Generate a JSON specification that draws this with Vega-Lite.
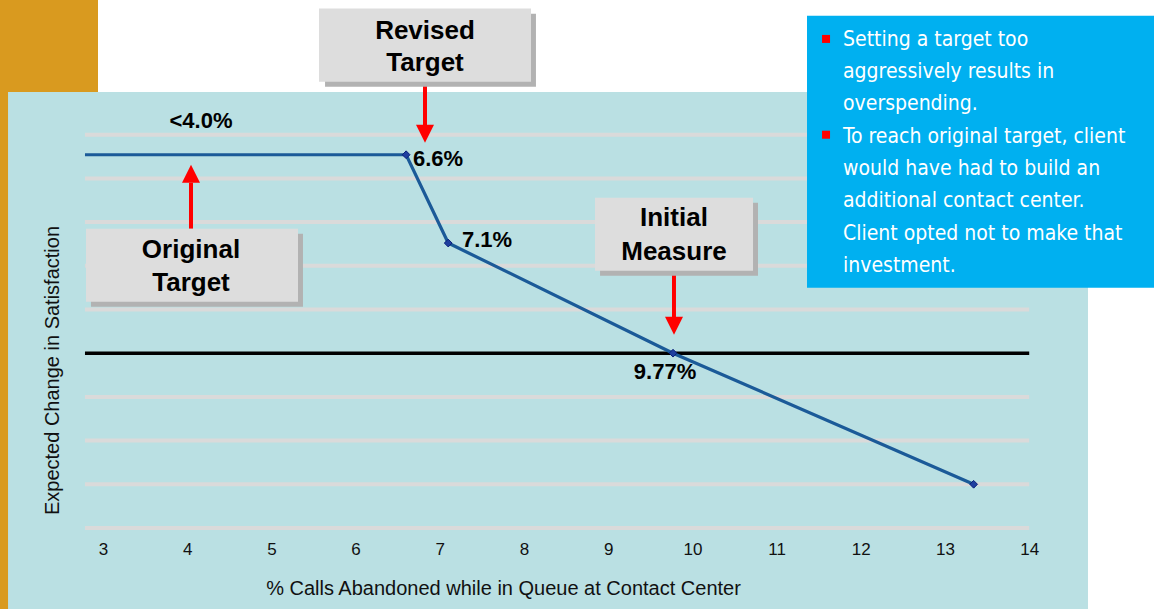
{
  "$schema": "https://vega.github.io/schema/vega-lite/v6.json",
  "width": 1154,
  "height": 609,
  "padding": 0,
  "autosize": {"type": "none"},
  "background": "white",
  "config": {"view": {"stroke": null}},
  "datasets": {
    "bg": [
      {"kind": "gold", "x": 1.7, "x2": 2.9406, "y": -2.2, "y2": 12.3},
      {"kind": "panel", "x": 1.872, "x2": 14.698, "y": -2.2, "y2": 9.977}
    ],
    "grid": [
      {"x": 2.786, "x2": 14.0, "y": 0},
      {"x": 2.786, "x2": 14.0, "y": 1},
      {"x": 2.786, "x2": 14.0, "y": 2},
      {"x": 2.786, "x2": 14.0, "y": 3},
      {"x": 2.786, "x2": 14.0, "y": 5},
      {"x": 2.786, "x2": 14.0, "y": 6},
      {"x": 2.786, "x2": 14.0, "y": 7},
      {"x": 2.786, "x2": 14.0, "y": 8},
      {"x": 2.786, "x2": 14.0, "y": 9}
    ],
    "base": [
      {"x": 2.786, "x2": 14.0, "y": 4}
    ],
    "series": [
      {"x": 2.786, "y": 8.541, "marker": false},
      {"x": 6.6, "y": 8.541, "marker": true},
      {"x": 7.1, "y": 6.52, "marker": true},
      {"x": 9.77, "y": 4.0, "marker": true},
      {"x": 13.34, "y": 1.0, "marker": true}
    ],
    "labels": [
      {"x": 4.164, "y": 9.32, "text": "<4.0%"},
      {"x": 6.979, "y": 8.45, "text": "6.6%"},
      {"x": 7.561, "y": 6.595, "text": "7.1%"},
      {"x": 9.675, "y": 3.572, "text": "9.77%"}
    ],
    "shafts": [
      {"x": 6.824, "y": 9.16, "y2": 10.213},
      {"x": 4.045, "y": 7.90, "y2": 6.847},
      {"x": 9.781, "y": 4.809, "y2": 5.885}
    ],
    "headsDown": [
      {"x": 6.824, "y": 9.022},
      {"x": 9.781, "y": 4.626}
    ],
    "headsUp": [
      {"x": 4.045, "y": 8.106}
    ],
    "shadows": [
      {"x": 5.637, "x2": 8.142, "y": 10.098, "y2": 11.77},
      {"x": 2.857, "x2": 5.375, "y": 5.061, "y2": 6.732},
      {"x": 8.903, "x2": 10.779, "y": 5.771, "y2": 7.442}
    ],
    "boxes": [
      {"x": 5.565, "x2": 8.083, "y": 10.213, "y2": 11.885},
      {"x": 2.798, "x2": 5.316, "y": 5.175, "y2": 6.847},
      {"x": 8.843, "x2": 10.72, "y": 5.885, "y2": 7.557}
    ],
    "boxText": [
      {"x": 6.824, "y": 11.381, "text": "Revised"},
      {"x": 6.824, "y": 10.648, "text": "Target"},
      {"x": 4.045, "y": 6.366, "text": "Original"},
      {"x": 4.045, "y": 5.61, "text": "Target"},
      {"x": 9.781, "y": 7.099, "text": "Initial"},
      {"x": 9.781, "y": 6.32, "text": "Measure"}
    ],
    "info": [
      {"x": 11.361, "x2": 15.6, "y": 5.496, "y2": 11.724}
    ],
    "bullets": [
      {"x": 11.587, "y": 11.191},
      {"x": 11.587, "y": 8.999}
    ],
    "infoText": [
      {"x": 11.789, "y": 11.175, "text": "Setting a target too"},
      {"x": 11.789, "y": 10.435, "text": "aggressively results in"},
      {"x": 11.789, "y": 9.695, "text": "overspending."},
      {"x": 11.789, "y": 8.956, "text": "To reach original target, client"},
      {"x": 11.789, "y": 8.216, "text": "would have had to build an"},
      {"x": 11.789, "y": 7.477, "text": "additional contact center."},
      {"x": 11.789, "y": 6.737, "text": "Client opted not to make that"},
      {"x": 11.789, "y": 5.997, "text": "investment."}
    ]
  },
  "encoding": {
    "x": {
      "field": "x",
      "type": "quantitative",
      "scale": {"domain": [1.7767, 15.482], "nice": false, "zero": false},
      "axis": {
        "values": [3, 4, 5, 6, 7, 8, 9, 10, 11, 12, 13, 14],
        "title": "% Calls Abandoned while in Queue at Contact Center",
        "grid": false,
        "domain": false,
        "ticks": false,
        "tickSize": 0,
        "offset": -80,
        "labelPadding": 20,
        "labelBaseline": "middle",
        "labelFontSize": 17,
        "labelFont": "Liberation Sans",
        "labelColor": "#111111",
        "labelFlush": false,
        "labelOverlap": false,
        "titleFont": "Liberation Sans",
        "titleFontSize": 20,
        "titleFontWeight": "normal",
        "titleColor": "#111111",
        "titlePadding": 21,
        "titleX": 503,
        "zindex": 1
      }
    },
    "y": {
      "field": "y",
      "type": "quantitative",
      "scale": {"domain": [-1.854, 12.082], "nice": false, "zero": false},
      "axis": {
        "title": "Expected Change in Satisfaction",
        "labels": false,
        "ticks": false,
        "tickSize": 0,
        "domain": false,
        "grid": false,
        "offset": -62,
        "titlePadding": 0,
        "titleFont": "Liberation Sans",
        "titleFontSize": 20,
        "titleFontWeight": "normal",
        "titleColor": "#111111",
        "titleY": 370,
        "zindex": 1
      }
    }
  },
  "layer": [
    {
      "data": {"name": "bg"},
      "transform": [{"filter": "datum.kind === 'gold'"}],
      "mark": {"type": "rect", "fill": "#D99A1F"},
      "encoding": {"x2": {"field": "x2"}, "y2": {"field": "y2"}}
    },
    {
      "data": {"name": "bg"},
      "transform": [{"filter": "datum.kind === 'panel'"}],
      "mark": {"type": "rect", "fill": "#BAE0E3"},
      "encoding": {"x2": {"field": "x2"}, "y2": {"field": "y2"}}
    },
    {
      "data": {"name": "grid"},
      "mark": {"type": "rule", "stroke": "#DADADA", "strokeWidth": 4},
      "encoding": {"x2": {"field": "x2"}}
    },
    {
      "data": {"name": "base"},
      "mark": {"type": "rule", "stroke": "#000000", "strokeWidth": 3.5},
      "encoding": {"x2": {"field": "x2"}}
    },
    {
      "data": {"name": "series"},
      "mark": {"type": "line", "stroke": "#1B5A98", "strokeWidth": 3.2},
      "encoding": {}
    },
    {
      "data": {"name": "series"},
      "transform": [{"filter": "datum.marker"}],
      "mark": {"type": "point", "shape": "diamond", "filled": true, "fill": "#1F3F9F", "stroke": "#0A1F7A", "strokeWidth": 1, "size": 60, "opacity": 1},
      "encoding": {}
    },
    {
      "data": {"name": "labels"},
      "mark": {"type": "text", "font": "Liberation Sans", "fontWeight": "bold", "fontSize": 22, "align": "center", "baseline": "middle", "fill": "#000000"},
      "encoding": {"text": {"field": "text"}}
    },
    {
      "data": {"name": "shafts"},
      "mark": {"type": "rule", "stroke": "#FF0000", "strokeWidth": 4},
      "encoding": {"y2": {"field": "y2"}}
    },
    {
      "data": {"name": "headsDown"},
      "mark": {"type": "point", "shape": "M-1,-1L1,-1L0,1Z", "filled": true, "fill": "#FF0000", "strokeWidth": 0, "size": 324, "opacity": 1},
      "encoding": {}
    },
    {
      "data": {"name": "headsUp"},
      "mark": {"type": "point", "shape": "M-1,1L1,1L0,-1Z", "filled": true, "fill": "#FF0000", "strokeWidth": 0, "size": 324, "opacity": 1},
      "encoding": {}
    },
    {
      "data": {"name": "shadows"},
      "mark": {"type": "rect", "fill": "#B2B2B2"},
      "encoding": {"x2": {"field": "x2"}, "y2": {"field": "y2"}}
    },
    {
      "data": {"name": "boxes"},
      "mark": {"type": "rect", "fill": "#DDDDDD"},
      "encoding": {"x2": {"field": "x2"}, "y2": {"field": "y2"}}
    },
    {
      "data": {"name": "boxText"},
      "mark": {"type": "text", "font": "Liberation Sans", "fontWeight": "bold", "fontSize": 26, "align": "center", "baseline": "middle", "fill": "#000000"},
      "encoding": {"text": {"field": "text"}}
    },
    {
      "data": {"name": "info"},
      "mark": {"type": "rect", "fill": "#00B0F0"},
      "encoding": {"x2": {"field": "x2"}, "y2": {"field": "y2"}}
    },
    {
      "data": {"name": "bullets"},
      "mark": {"type": "point", "shape": "square", "filled": true, "fill": "#FF0000", "strokeWidth": 0, "size": 64, "opacity": 1},
      "encoding": {}
    },
    {
      "data": {"name": "infoText"},
      "mark": {"type": "text", "font": "DejaVu Sans Condensed", "fontSize": 21, "align": "left", "baseline": "middle", "fill": "#FFFFFF"},
      "encoding": {"text": {"field": "text"}}
    }
  ]
}
